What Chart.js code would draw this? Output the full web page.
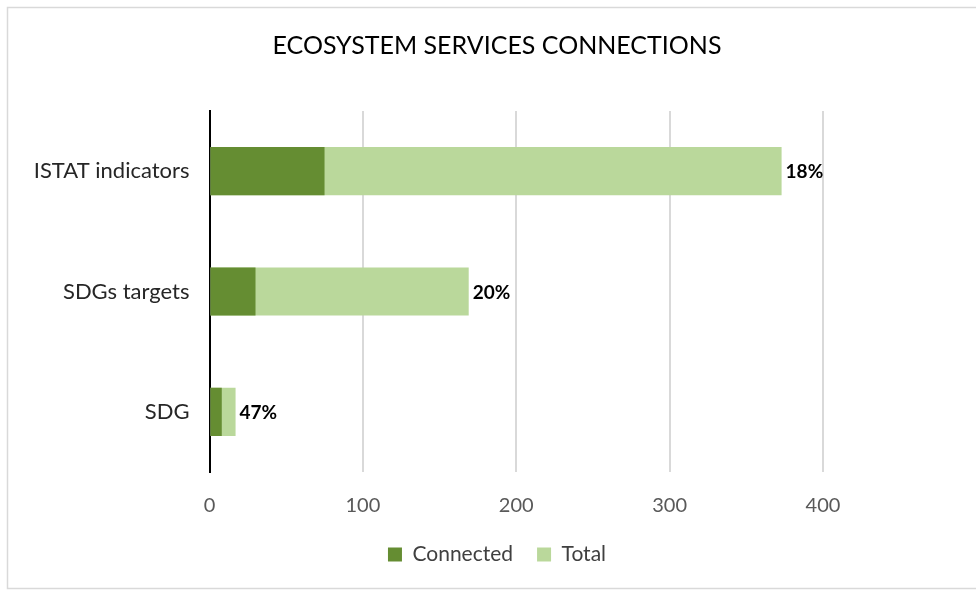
<!DOCTYPE html>
<html>
<head>
<meta charset="utf-8">
<script src="https://cdn.jsdelivr.net/npm/chart.js@4"></script>
<style>
  html, body { margin: 0; padding: 0; background: #fff; }
  #wrap { width: 976px; height: 590px; }
</style>
</head>
<body>
<div id="wrap"><canvas id="esChart" width="976" height="590"></canvas></div>
<script>
// data
const categories = ['ISTAT indicators', 'SDGs targets', 'SDG'];
const connected = [75, 30, 8];
const total = [373, 169, 17];
const shareLabels = ['18%', '20%', '47%'];

const FONT = 'Lato, "Open Sans", sans-serif';

// frame around the figure
const framePlugin = {
    id: 'frame',
    beforeDraw(chart) {
        const c = chart.ctx;
        c.save();
        c.fillStyle = '#fff';
        c.fillRect(0, 0, chart.width, chart.height);
        c.strokeStyle = '#d9d9d9';
        c.lineWidth = 1.5;
        c.strokeRect(7.5, 7.5, chart.width + 10, chart.height - 9);
        c.restore();
    }
};

// percentage labels at the end of the Total bars
const shareLabelPlugin = {
    id: 'shareLabels',
    afterDatasetsDraw(chart) {
        const c = chart.ctx;
        const meta = chart.getDatasetMeta(1);
        c.save();
        c.font = 'bold 19px ' + FONT;
        c.fillStyle = '#000';
        c.textAlign = 'left';
        c.textBaseline = 'middle';
        meta.data.forEach((bar, i) => {
            c.fillText(shareLabels[i], bar.x + 4, bar.y + 1);
        });
        c.restore();
    }
};

const ctx = document.getElementById('esChart').getContext('2d');
new Chart(ctx, {
    type: 'bar',
    data: {
        labels: categories,
        datasets: [{
            label: 'Connected',
            data: connected,
            backgroundColor: '#658d32',
            order: 0,
            grouped: false,
            categoryPercentage: 1,
            barPercentage: 0.4
        }, {
            label: 'Total',
            data: total,
            backgroundColor: '#bad89b',
            order: 1,
            grouped: false,
            categoryPercentage: 1,
            barPercentage: 0.4
        }]
    },
    options: {
        indexAxis: 'y',
        responsive: false,
        animation: false,
        layout: { padding: { left: 18, right: 0, top: 0, bottom: 15 } },
        plugins: {
            title: {
                display: true,
                text: 'ECOSYSTEM SERVICES CONNECTIONS',
                color: '#000',
                font: { family: FONT, size: 25, weight: 'normal' },
                padding: { top: 31, bottom: 50 }
            },
            legend: {
                position: 'bottom',
                labels: {
                    color: '#404040',
                    font: { family: FONT, size: 21 },
                    boxWidth: 14,
                    boxHeight: 14,
                    padding: 24
                }
            },
            tooltip: { enabled: false }
        },
        scales: {
            x: {
                min: 0,
                max: 400,
                ticks: { stepSize: 100, color: '#595959', font: { family: FONT, size: 20 }, padding: 22 },
                grid: {
                    drawTicks: false,
                    lineWidth: 2,
                    color: (c) => c.tick && c.tick.value === 0 ? 'rgba(0,0,0,0)' : '#d9d9d9'
                },
                border: { display: false },
                afterFit(s) { s.height = 48; }
            },
            y: {
                ticks: { color: '#262626', font: { family: FONT, size: 22 }, padding: 20 },
                grid: { display: false, drawTicks: false },
                border: { display: true, color: '#000', width: 2 },
                afterFit(s) { s.width = 191.5; }
            },
            y2: {
                position: 'right',
                type: 'category',
                labels: categories,
                ticks: { display: false },
                grid: { display: false, drawTicks: false },
                border: { display: false },
                afterFit(s) { s.width = 153; }
            }
        }
    },
    plugins: [framePlugin, shareLabelPlugin]
});
</script>
</body>
</html>
